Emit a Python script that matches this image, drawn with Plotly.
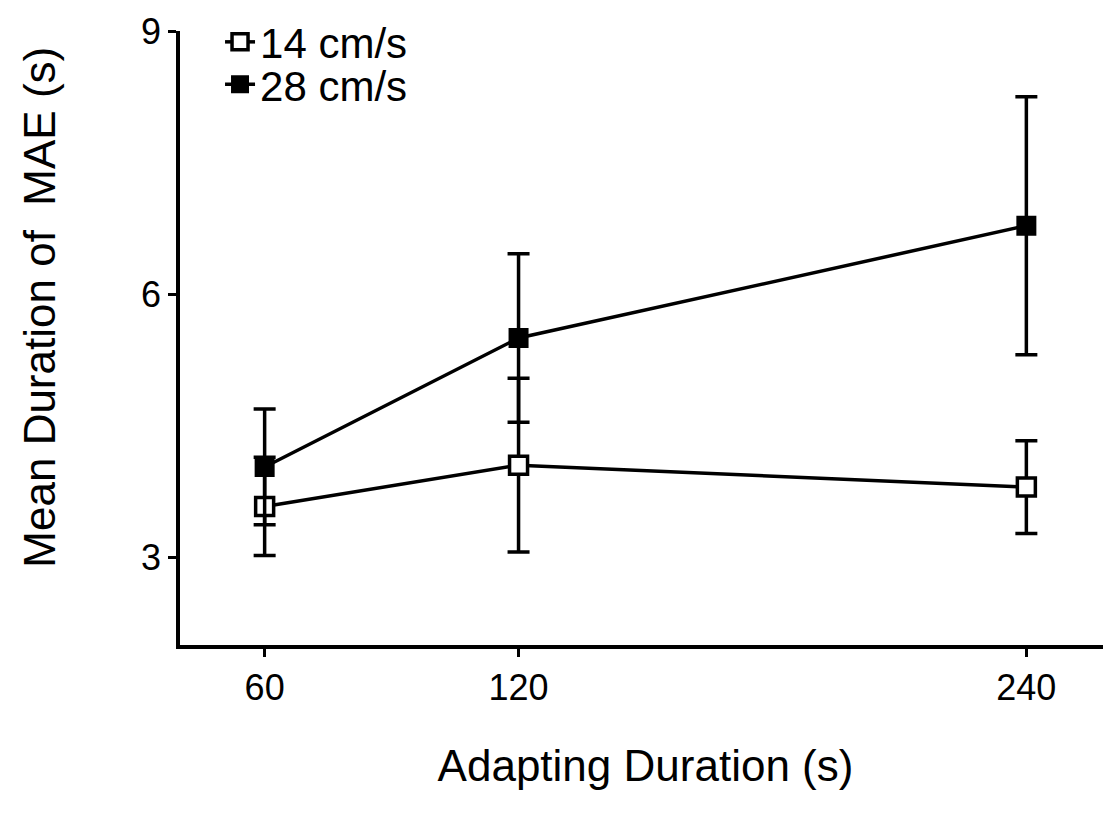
import plotly.graph_objects as go

adapting = [60, 120, 240]
mae_14 = [3.58, 4.05, 3.80]
err_14 = [0.56, 0.99, 0.53]
mae_28 = [4.03, 5.50, 6.78]
err_28 = [0.66, 0.96, 1.47]

x_ticks = [60, 120, 240]
y_ticks = [3, 6, 9]

FONT = "Liberation Sans, Arial, sans-serif"

fig = go.Figure()
fig.add_trace(go.Scatter(
    x=adapting, y=mae_14, name="14 cm/s", mode="lines+markers", legend="legend",
    line=dict(color="black", width=3.5),
    marker=dict(symbol="square", size=18, color="white", line=dict(color="black", width=3.5)),
    error_y=dict(type="data", array=err_14, visible=True, color="black", thickness=3.5, width=11),
))
fig.add_trace(go.Scatter(
    x=adapting, y=mae_28, name="28 cm/s", mode="lines+markers", legend="legend2",
    line=dict(color="black", width=3.5),
    marker=dict(symbol="square", size=18, color="black", line=dict(color="black", width=2)),
    error_y=dict(type="data", array=err_28, visible=True, color="black", thickness=3.5, width=11),
))

leg_common = dict(xanchor="left", yanchor="middle", font=dict(size=42, family=FONT, color="black"),
                  bgcolor="rgba(0,0,0,0)", itemwidth=30)

fig.update_layout(
    width=1103, height=812,
    margin=dict(l=172, r=0, t=20, b=175),
    paper_bgcolor="white", plot_bgcolor="white",
    font=dict(family=FONT, color="black", size=36),
    showlegend=True,
    legend=dict(x=0.043, y=0.982, **leg_common),
    legend2=dict(x=0.043, y=0.913, **leg_common),
    xaxis=dict(range=[40, 260], tickvals=x_ticks, ticktext=[str(v) for v in x_ticks],
               showline=True, linecolor="black", linewidth=3.5, showgrid=False, zeroline=False,
               ticks="outside", ticklen=8, tickwidth=2.5, tickcolor="black",
               tickfont=dict(size=36), title=dict(text="Adapting Duration (s)", font=dict(size=44), standoff=44)),
    yaxis=dict(range=[2, 9], tickvals=y_ticks, ticktext=[str(v) for v in y_ticks],
               showline=True, linecolor="black", linewidth=3.5, showgrid=False, zeroline=False,
               ticks="outside", ticklen=8, tickwidth=2.5, tickcolor="black",
               tickfont=dict(size=36)),
    annotations=[dict(text="Mean Duration of\u00a0 MAE (s)", textangle=-90, showarrow=False,
                      xref="paper", yref="paper", x=-0.1504, y=0.551,
                      xanchor="center", yanchor="middle", font=dict(size=44, family=FONT, color="black"))],
)

fig.write_html("out.html")
